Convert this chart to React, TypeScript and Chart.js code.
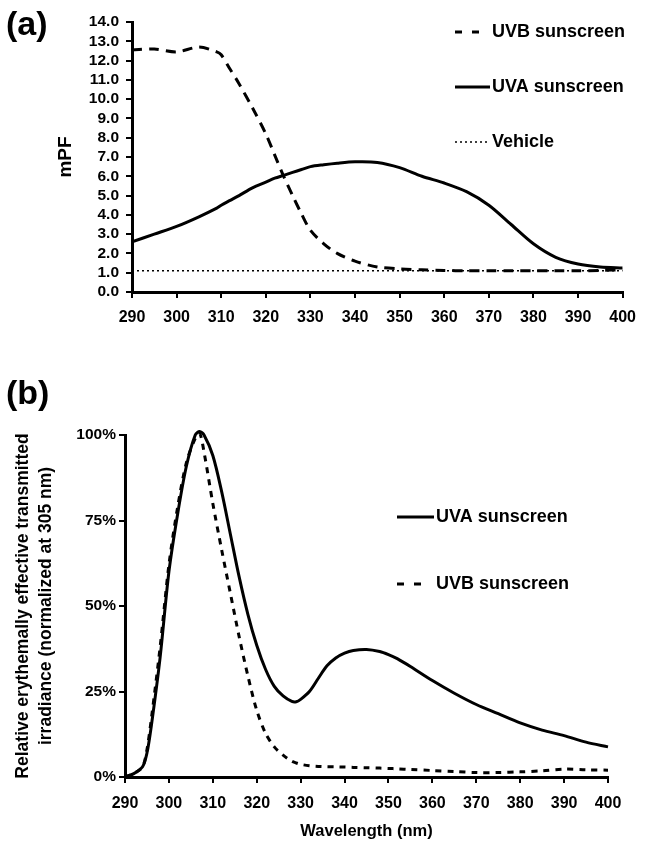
import React, { useEffect, useRef } from "react";
import { Chart, registerables } from "chart.js";

Chart.register(...registerables);

const FONT = "'Liberation Sans', Arial, Helvetica, sans-serif";

// ---------- Panel (a): mPF vs wavelength ----------
const wavelengthsA = [290, 295, 300, 305, 309, 310, 312, 314, 317, 320, 322, 324, 326, 328, 330, 333, 336, 340, 345, 350, 355, 360, 365, 370, 375, 380, 385, 390, 395, 400];
const uvbSunscreenA = [12.55, 12.6, 12.45, 12.7, 12.45, 12.3, 11.55, 10.8, 9.55, 8.2, 7.1, 6.0, 5.0, 4.05, 3.2, 2.5, 2.0, 1.6, 1.3, 1.2, 1.15, 1.12, 1.1, 1.1, 1.1, 1.1, 1.1, 1.1, 1.12, 1.15];
const uvaSunscreenA = [2.6, 3.0, 3.4, 3.9, 4.35, 4.5, 4.75, 5.0, 5.4, 5.7, 5.9, 6.05, 6.2, 6.35, 6.5, 6.6, 6.68, 6.75, 6.72, 6.45, 6.0, 5.65, 5.2, 4.5, 3.5, 2.5, 1.8, 1.45, 1.3, 1.25];
const vehicleA = [1.1, 1.1, 1.1, 1.1, 1.1, 1.1, 1.1, 1.1, 1.1, 1.1, 1.1, 1.1, 1.1, 1.1, 1.1, 1.1, 1.1, 1.1, 1.1, 1.1, 1.1, 1.1, 1.1, 1.1, 1.1, 1.1, 1.1, 1.1, 1.1, 1.1];
const yTicksA = { min: 0, max: 14, step: 1 };
const xTicks = { min: 290, max: 400, step: 10 };

// ---------- Panel (b): relative erythemally effective transmitted irradiance (%) ----------
const wavelengthsB = [290, 292, 294, 295, 296, 298, 300, 302, 304, 306, 307, 308, 310, 312, 314, 316, 318, 320, 322, 324, 326, 328, 329, 330, 332, 334, 336, 338, 340, 342, 345, 348, 350, 352, 355, 360, 365, 370, 375, 380, 385, 390, 395, 400];
const uvaSunscreenB = [0, 1, 3, 7, 15, 35, 60, 77, 91, 100, 101, 100, 94, 83.5, 71, 58.5, 47.5, 38.5, 31.5, 26.5, 23.7, 22.1, 22, 22.7, 25, 28.8, 32.5, 34.8, 36.2, 37, 37.3, 36.7, 35.8, 34.6, 32.3, 28.2, 24.5, 21.2, 18.5, 15.8, 13.7, 12.1, 10.2, 8.8];
const uvbSunscreenB = [0, 1, 3, 8, 17, 38, 62, 79, 92, 99, 100.5, 95, 80, 66.5, 53.7, 41, 29.5, 19.5, 12.8, 8.8, 6.4, 4.6, 4.1, 3.7, 3.3, 3.1, 3.0, 2.95, 2.9, 2.8, 2.7, 2.6, 2.5, 2.4, 2.2, 1.9, 1.6, 1.3, 1.3, 1.5, 1.8, 2.3, 2.1, 2.0];
const yTicksB = { min: 0, max: 100, step: 25 };

const inlineLegend = {
  id: "inlineLegend",
  afterDraw(chart: any, _args: any, opts: any) {
    const ctx = chart.ctx;
    const items = (opts && opts.items) || [];
    ctx.save();
    items.forEach((it: any) => {
      const ds = chart.data.datasets[it.datasetIndex];
      ctx.beginPath();
      ctx.setLineDash(it.dash || []);
      ctx.lineWidth = it.lineWidth || ds.borderWidth;
      ctx.strokeStyle = ds.borderColor;
      ctx.moveTo(it.x0, it.y);
      ctx.lineTo(it.x1, it.y);
      ctx.stroke();
      ctx.setLineDash([]);
      ctx.fillStyle = "#000";
      ctx.font = `bold ${opts.fontSize}px ${FONT}`;
      ctx.textBaseline = "middle";
      ctx.textAlign = "left";
      ctx.fillText(ds.label, it.textX, it.y);
    });
    ctx.restore();
  },
};

function pts(xs: number[], ys: number[]) {
  return xs.map((x, i) => ({ x, y: ys[i] }));
}

function axisCommon(tickSize: number, pad: number, tickLen: number) {
  return {
    ticks: {
      color: "#000",
      font: { family: FONT, size: tickSize, weight: "bold" },
      padding: pad,
      maxRotation: 0,
      autoSkip: false,
    },
    grid: {
      display: true,
      drawOnChartArea: false,
      drawTicks: true,
      tickLength: tickLen,
      color: "#000",
      lineWidth: 2,
    },
    border: { display: true, color: "#000", width: 3 },
  };
}

export default function App() {
  const refA = useRef<HTMLCanvasElement | null>(null);
  const refB = useRef<HTMLCanvasElement | null>(null);

  useEffect(() => {
    document.body.style.margin = "0";
    const cA = new Chart(refA.current as HTMLCanvasElement, {
      type: "line",
      data: {
        datasets: [
          {
            label: "UVB sunscreen",
            data: pts(wavelengthsA, uvbSunscreenA),
            borderColor: "#000",
            borderWidth: 3,
            borderDash: [10, 7],
            pointRadius: 0,
            tension: 0.3,
            fill: false,
          },
          {
            label: "UVA sunscreen",
            data: pts(wavelengthsA, uvaSunscreenA),
            borderColor: "#000",
            borderWidth: 3,
            pointRadius: 0,
            tension: 0.3,
            fill: false,
          },
          {
            label: "Vehicle",
            data: pts(wavelengthsA, vehicleA),
            borderColor: "#000",
            borderWidth: 1.5,
            borderDash: [2, 3],
            pointRadius: 0,
            fill: false,
          },
        ],
      } as any,
      options: {
        responsive: false,
        animation: false,
        devicePixelRatio: 1,
        layout: { padding: { top: 22, right: 15, left: 0, bottom: 0 } },
        plugins: {
          legend: { display: false },
          tooltip: { enabled: false },
          inlineLegend: {
            fontSize: 18,
            items: [
              { datasetIndex: 0, x0: 455, x1: 480, y: 32, textX: 492, dash: [7, 10] },
              { datasetIndex: 1, x0: 455, x1: 490, y: 87, textX: 492 },
              { datasetIndex: 2, x0: 455, x1: 489, y: 142, textX: 492, dash: [2, 3] },
            ],
          },
        } as any,
        scales: {
          x: {
            type: "linear",
            min: xTicks.min,
            max: xTicks.max,
            ...axisCommon(16, 10, 6),
            ticks: { ...axisCommon(16, 10, 6).ticks, stepSize: xTicks.step },
            afterFit: (s: any) => {
              s.height = 48;
            },
          },
          y: {
            type: "linear",
            min: yTicksA.min,
            max: yTicksA.max,
            ...axisCommon(15.5, 7, 6),
            ticks: {
              ...axisCommon(15.5, 7, 6).ticks,
              stepSize: yTicksA.step,
              callback: (v: any) => Number(v).toFixed(1),
            },
            title: {
              display: true,
              text: "mPF",
              color: "#000",
              font: { family: FONT, size: 19, weight: "bold" },
              padding: { top: 54, bottom: 0 },
            },
            afterFit: (s: any) => {
              s.width = 132;
            },
          },
        } as any,
      },
      plugins: [inlineLegend],
    });

    const cB = new Chart(refB.current as HTMLCanvasElement, {
      type: "line",
      data: {
        datasets: [
          {
            label: "UVA sunscreen",
            data: pts(wavelengthsB, uvaSunscreenB),
            borderColor: "#000",
            borderWidth: 3,
            pointRadius: 0,
            tension: 0.3,
            fill: false,
            clip: false,
          },
          {
            label: "UVB sunscreen",
            data: pts(wavelengthsB, uvbSunscreenB),
            borderColor: "#000",
            borderWidth: 3,
            borderDash: [6, 6],
            pointRadius: 0,
            tension: 0.3,
            fill: false,
            clip: false,
          },
        ],
      } as any,
      options: {
        responsive: false,
        animation: false,
        devicePixelRatio: 1,
        layout: { padding: { top: 95, right: 38, left: 0, bottom: 0 } },
        plugins: {
          legend: { display: false },
          tooltip: { enabled: false },
          inlineLegend: {
            fontSize: 18,
            items: [
              { datasetIndex: 0, x0: 397, x1: 434, y: 177, textX: 436 },
              { datasetIndex: 1, x0: 397, x1: 421, y: 244, textX: 436, dash: [7, 10] },
            ],
          },
        } as any,
        scales: {
          x: {
            type: "linear",
            min: xTicks.min,
            max: xTicks.max,
            ...axisCommon(16, 11, 6),
            ticks: { ...axisCommon(16, 11, 6).ticks, stepSize: xTicks.step },
            title: {
              display: true,
              text: "Wavelength (nm)",
              color: "#000",
              font: { family: FONT, size: 16.5, weight: "bold" },
              padding: { top: 0, bottom: 0 },
            },
            afterFit: (s: any) => {
              s.height = 64;
            },
          },
          y: {
            type: "linear",
            min: yTicksB.min,
            max: yTicksB.max,
            ...axisCommon(15.5, 3, 6),
            ticks: {
              ...axisCommon(15.5, 3, 6).ticks,
              stepSize: yTicksB.step,
              callback: (v: any) => `${v}%`,
            },
            title: {
              display: true,
              text: ["Relative erythemally effective transmitted", "irradiance (normalized at 305 nm)"],
              color: "#000",
              font: { family: FONT, size: 17.5, weight: "bold", lineHeight: 1.3 },
              padding: { top: 12, bottom: 0 },
            },
            afterFit: (s: any) => {
              s.width = 125;
            },
          },
        } as any,
      },
      plugins: [inlineLegend],
    });

    return () => {
      cA.destroy();
      cB.destroy();
    };
  }, []);

  const tag: React.CSSProperties = {
    position: "absolute",
    left: 6,
    fontFamily: FONT,
    fontWeight: "bold",
    fontSize: 34,
    lineHeight: "34px",
    color: "#000",
  };

  return (
    <div style={{ position: "absolute", left: 0, top: 0, width: 646, height: 841, background: "#fff" }}>
      <canvas ref={refA} width={646} height={340} style={{ position: "absolute", left: 0, top: 0, display: "block" }} />
      <canvas ref={refB} width={646} height={501} style={{ position: "absolute", left: 0, top: 340, display: "block" }} />
      <div style={{ ...tag, top: 6 }}>(a)</div>
      <div style={{ ...tag, top: 375 }}>(b)</div>
    </div>
  );
}
